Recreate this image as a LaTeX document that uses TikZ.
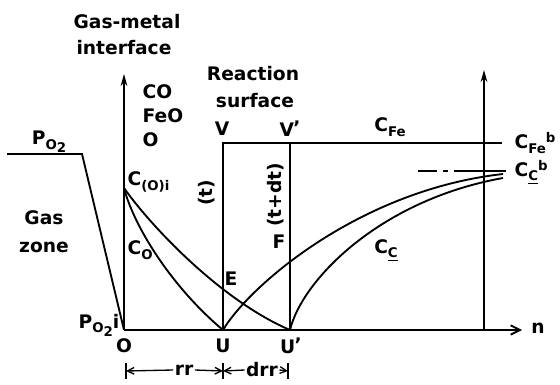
\documentclass[tikz,border=0pt]{standalone}
\usepackage{fontspec}
\setmainfont{DejaVu Sans}
\usetikzlibrary{arrows.meta}
\newcommand\lsub[1]{\raisebox{-0.45ex}{\fontsize{10}{10}\selectfont #1}}
\newcommand\lsup[1]{\raisebox{0.55ex}{\fontsize{10}{10}\selectfont #1}}
\newcommand\prm{\kern-0.5pt\raisebox{0.2ex}{’}}
\begin{document}
\begin{tikzpicture}[x=0.75pt,y=-0.75pt,line width=1.4pt,
  every node/.style={font=\fontsize{14}{17}\selectfont\bfseries,inner sep=0.5pt},
  axis/.style={-{Stealth[length=9pt,width=5pt]}},
  naxis/.style={-{Straight Barb[length=7pt,width=7pt]}},
  dimarr/.style={line width=1pt,-{Straight Barb[length=5pt,width=5pt]}},
  tick/.style={line width=1.2pt},
  dashdot/.style={dash pattern=on 14pt off 4.5pt on 3.75pt off 5pt on 40pt}]
\useasboundingbox (0,0) rectangle (560,385);
% coordinates
\coordinate (O) at (124,330);
\coordinate (Otop) at (124,74);
\coordinate (nEnd) at (522,330);
\coordinate (U) at (223,330);
\coordinate (Up) at (290,330);
\coordinate (V) at (223,143);
\coordinate (Vp) at (290,143);
\coordinate (FeEnd) at (502,143);
\coordinate (R) at (484,330);
\coordinate (Rtop) at (484,70);
\coordinate (Pa) at (7,154);
\coordinate (Pb) at (82,154);
\coordinate (Ci) at (124,188);
\coordinate (Ca) at (503,174);
\coordinate (Cb) at (503,178);
\coordinate (Da) at (418,171);
\coordinate (Db) at (506,171);
% axes
\draw[axis] (O) -- (Otop);
\draw[naxis] (O) -- (nEnd);
\draw[axis] (R) -- (Rtop);
% reaction surfaces
\draw (U) -- (V) -- (FeEnd);
\draw (Up) -- (Vp);
% oxygen partial pressure
\draw (Pa) -- (Pb) -- (O);
% concentration curves
\draw (Ci) .. controls (135,230) and (175,290) .. (U);
\draw (Ci) .. controls (150,225) and (220,300) .. (Up);
\draw (U) .. controls (250,285) and (360,190) .. (Ca);
\draw (Up) .. controls (302,280) and (380,200) .. (Cb);
\draw[dashdot,line width=1.2pt] (Da) -- (Db);
% labels
\node (gm1) at (127,22) {Gas-metal};
\node (gm2) at (124,48) {interface};
\node[anchor=west] (co) at (141,92) {CO};
\node[anchor=west] (feo) at (141,116) {FeO};
\node[anchor=west] (oo) at (141,140) {O};
\node (rs1) at (253,74) {Reaction};
\node (rs2) at (255,101) {surface};
\node (vl) at (222,129) {V};
\node (vpl) at (290,129) {V\prm};
\node[rotate=90] (tl) at (207,193) {(t)};
\node[rotate=90] (tdl) at (276,195) {(t+dt)};
\node (po2) at (49,142) {P\lsub{O\lsub{2}}};
\node (gas1) at (44,218) {Gas};
\node (gas2) at (44,247) {zone};
\node[anchor=west] (cio) at (126,182) {C\lsub{(O)i}};
\node[anchor=west] (col) at (126,250) {C\lsub{O}};
\node (el) at (231,279) {E};
\node (fl) at (279,242) {F};
\node (cfe) at (390,127) {C\lsub{Fe}};
\node[anchor=west] (cfeb) at (513,143) {C\lsub{Fe}\lsup{b}};
\node[anchor=west] (ccb) at (513,172) {C\lsub{\underline{C}}\lsup{b}};
\node (ccl) at (386,250) {C\lsub{\underline{C}}};
\node (poi) at (99,325) {P\lsub{O\lsub{2}}i};
\node (ol) at (124,346) {O};
\node (ul) at (223,346) {U};
\node (upl) at (291,346) {U\prm};
\node (nl) at (538,328) {n};
% dimension line
\coordinate (d0) at (126,371);
\coordinate (d1) at (223,371);
\coordinate (d2) at (288,371);
\node (rr) at (184,370) {rr};
\node (drr) at (262,370) {drr};
\draw[dimarr] (rr.west) -- (d0);
\draw[dimarr] (rr.east) -- (d1);
\draw[dimarr] (drr.west) -- (d1);
\draw[dimarr] (drr.east) -- (d2);
\draw[tick] ([yshift=6pt]d0) -- ([yshift=-6pt]d0);
\draw[tick] ([yshift=6pt]d1) -- ([yshift=-6pt]d1);
\draw[tick] ([yshift=6pt]d2) -- ([yshift=-6pt]d2);
\end{tikzpicture}
\end{document}
